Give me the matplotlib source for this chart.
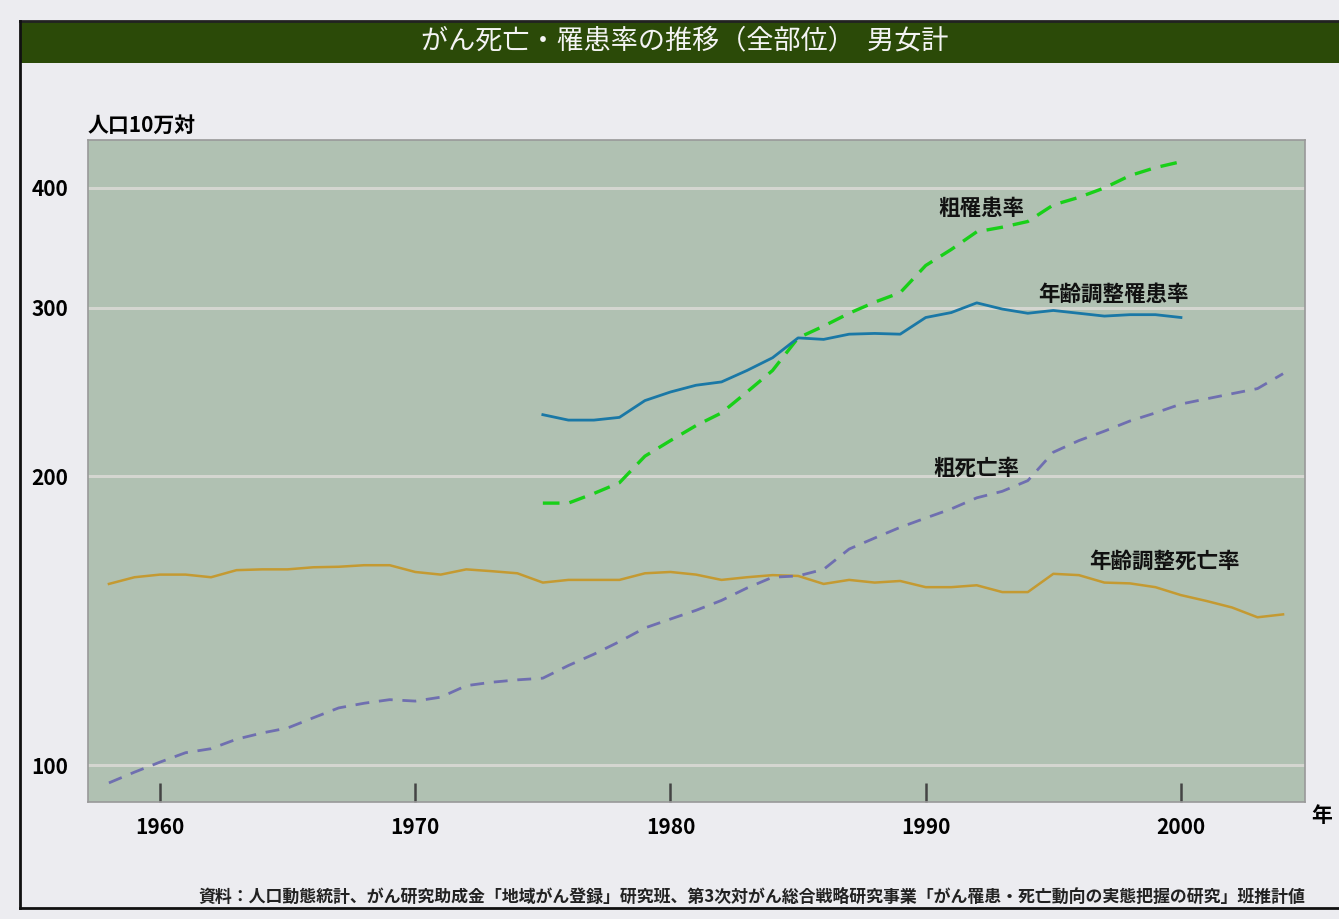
import matplotlib
matplotlib.use("Agg")
import matplotlib.pyplot as plt
from matplotlib.patches import Rectangle
from matplotlib.lines import Line2D
from matplotlib.ticker import FixedLocator, NullLocator

plt.rcParams['font.family'] = ['Noto Sans CJK JP', 'DejaVu Sans']

years_death = list(range(1958, 2005))
age_adj_death = [154.5, 157, 158, 158, 157, 159.7, 160, 160, 160.8, 161, 161.6, 161.6,
                 159, 158, 160, 159.3, 158.5, 155, 156, 156, 156, 158.5, 159, 158, 156,
                 157, 157.8, 157.5, 154.5, 156, 155, 155.6, 153.3, 153.3, 154, 151.5,
                 151.5, 158.3, 157.8, 155, 154.7, 153.3, 150.4, 148.3, 146, 142.6, 143.6]
crude_death = [95.8, 98.3, 100.7, 103, 104, 106.4, 108, 109.3, 112, 114.7, 116, 117,
               116.6, 117.7, 121, 122, 122.7, 123.2, 127, 130.5, 134.5, 139, 142, 145,
               148.5, 153, 157, 157.5, 160, 168, 172.5, 177, 181, 185, 190, 193, 198,
               212, 218, 223, 228.5, 233, 238, 241, 244, 247, 256]

years_inc = list(range(1975, 2001))
crude_inc = [187.6, 187.6, 192, 197, 210, 218, 226, 233, 245, 258, 279, 287, 296, 304,
             311, 332, 345, 360, 364, 369, 384, 391, 400, 412, 420, 426]
age_adj_inc = [232, 229, 229, 230.5, 240, 245, 249, 251, 258, 266, 279, 278, 281.5, 282,
               281.5, 293, 296.5, 303.5, 299, 296, 298, 296, 294, 295, 295, 293]

x_ticks = [1960, 1970, 1980, 1990, 2000]
y_ticks = [100, 200, 300, 400]

title = "がん死亡・罹患率の推移（全部位）  男女計"
source = "資料：人口動態統計、がん研究助成金「地域がん登録」研究班、第3次対がん総合戦略研究事業「がん罹患・死亡動向の実態把握の研究」班推計値"

fig = plt.figure(figsize=(13.39, 9.19), dpi=100)
fig.patch.set_facecolor('#ececf0')

W, H = 1339, 919
def fx(x): return x / W
def fy(y): return 1 - y / H

# title band and frame
fig.patches.append(Rectangle((fx(20), fy(63)), fx(1339) - fx(20), fy(22) - fy(63),
                             transform=fig.transFigure, facecolor='#2b4a08',
                             edgecolor='none', zorder=0))
fig.lines.append(Line2D([fx(20), fx(1339)], [fy(21), fy(21)], transform=fig.transFigure,
                        color='#222222', lw=2))
fig.lines.append(Line2D([fx(20), fx(20)], [fy(21), fy(908)], transform=fig.transFigure,
                        color='#111111', lw=2))
fig.lines.append(Line2D([fx(20), fx(1339)], [fy(908), fy(908)], transform=fig.transFigure,
                        color='#111111', lw=2))
fig.text(fx(685), fy(41), title, color='#f4f4f4', fontsize=19.5, ha='center', va='center')

ax = fig.add_axes([fx(88), fy(802), fx(1305) - fx(88), fy(140) - fy(802)])
ax.set_facecolor('#b0c1b2')
ax.set_yscale('log')
ax.set_xlim(1957.18, 2004.86)
ax.set_ylim(91.5, 448.8)

for v in y_ticks:
    ax.axhline(v, color='#d4d6d0', lw=2.2, zorder=1)

ax.plot(years_death, age_adj_death, color='#c49a32', lw=1.8, zorder=3)
ax.plot(years_death, crude_death, color='#6f6fb0', lw=2.0, ls=(0, (5, 3.5)), zorder=3)
ax.plot(years_inc, crude_inc, color='#18d018', lw=2.4, ls=(0, (5, 3)), zorder=4)
ax.plot(years_inc, age_adj_inc, color='#1a78a6', lw=2.0, zorder=4)

ax.yaxis.set_major_locator(FixedLocator(y_ticks))
ax.yaxis.set_minor_locator(NullLocator())
ax.set_yticklabels([str(v) for v in y_ticks], fontsize=15, fontweight='bold')
ax.xaxis.set_major_locator(FixedLocator(x_ticks))
ax.set_xticklabels([str(v) for v in x_ticks], fontsize=15, fontweight='bold')
ax.tick_params(axis='x', direction='in', length=14, width=1.8, color='#444444', pad=11)
ax.tick_params(axis='y', length=0, pad=14)
for s in ax.spines.values():
    s.set_color('#999999')
    s.set_linewidth(1.2)

lab = dict(fontsize=15.5, fontweight='bold', color='#111111', ha='center', va='center')
ax.text(1992.17, 381, "粗罹患率", **lab)
ax.text(1997.34, 310, "年齢調整罹患率", **lab)
ax.text(1991.98, 204, "粗死亡率", **lab)
ax.text(1999.34, 163, "年齢調整死亡率", **lab)

fig.text(fx(88), fy(125), "人口10万対", fontsize=15, fontweight='bold', ha='left', va='center')
fig.text(fx(1322), fy(815), "年", fontsize=15, fontweight='bold', ha='center', va='center')
fig.text(fx(1305), fy(897), source, fontsize=12.2, fontweight='bold', ha='right', va='center',
         color='#222222')

fig.savefig('out.png', dpi=100, facecolor=fig.get_facecolor())
